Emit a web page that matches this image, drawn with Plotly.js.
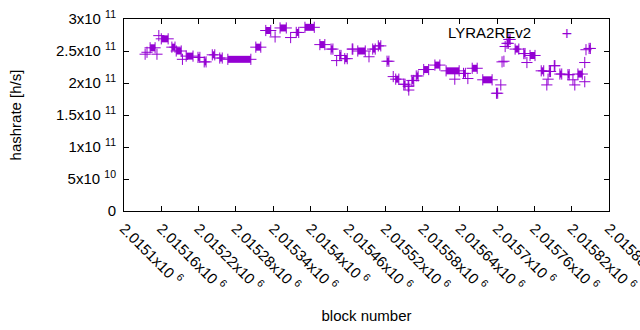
<!DOCTYPE html>
<html>
<head>
<meta charset="utf-8">
<script src="https://cdn.plot.ly/plotly-3.0.1.min.js"></script>
<style>html,body{margin:0;padding:0;background:#fff;}#chart{width:640px;height:330px;}</style>
</head>
<body>
<div id="chart"></div>
<script>
// Runs of consecutive blocks sharing the same hashrate
const runStart = [2015142,2015160,2015177,2015184,2015200,2015219,2015229,2015242,2015254,2015267,
  2015312,2015328,2015351,2015377,2015391,2015415,2015433,2015447,2015455,2015467,
  2015476,2015500,2015509,2015523,2015537,2015550,2015557,2015563,2015570,2015582,
  2015600,2015618,2015646,2015660,2015677,2015699,2015716,2015719,2015729,2015743,
  2015753,2015771,2015784,2015792,2015801,2015814,2015830,2015848];
const runEnd = [2015150,2015171,2015182,2015192,2015211,2015222,2015232,2015246,2015258,2015304,
  2015320,2015336,2015361,2015381,2015406,2015423,2015436,2015449,2015459,2015468,
  2015488,2015504,2015513,2015526,2015542,2015552,2015558,2015566,2015573,2015590,
  2015608,2015639,2015649,2015668,2015692,2015701,2015718,2015721,2015735,2015745,
  2015761,2015775,2015786,2015793,2015804,2015816,2015837,2015850];
const runValue = [2.55e11,2.69e11,2.56e11,2.50e11,2.42e11,2.40e11,2.33e11,2.44e11,2.39e11,2.37e11,
  2.56e11,2.82e11,2.86e11,2.79e11,2.87e11,2.60e11,2.53e11,2.43e11,2.38e11,2.53e11,
  2.50e11,2.53e11,2.58e11,2.34e11,2.06e11,1.98e11,1.95e11,2.04e11,2.11e11,2.21e11,
  2.28e11,2.19e11,2.15e11,2.23e11,2.05e11,1.84e11,2.62e11,2.68e11,2.53e11,2.46e11,
  2.43e11,2.19e11,2.18e11,2.27e11,2.14e11,2.13e11,2.14e11,2.54e11];
// Isolated blocks
const singleBlock = [2015134,2015137,2015153,2015156,2015194,2015343,2015368,2015442,2015494,2015533,
  2015558,2015632,2015653,2015706,2015708,2015711,2015713,2015748,2015780,2015782,
  2015822,2015825,2015841,2015841,2015843];
const singleValue = [2.45e11,2.48e11,2.45e11,2.74e11,2.37e11,2.72e11,2.71e11,2.35e11,2.41e11,2.10e11,
  1.89e11,2.06e11,2.07e11,1.97e11,2.33e11,2.34e11,2.57e11,2.32e11,1.97e11,2.06e11,
  2.05e11,1.97e11,2.02e11,2.32e11,2.52e11];

const xTickVals = [2015100,2015160,2015220,2015280,2015340,2015400,2015460,2015520,2015580,2015640,2015700,2015760,2015820,2015880];
const xTickMant = ['2.0151','2.01516','2.01522','2.01528','2.01534','2.0154','2.01546','2.01552','2.01558','2.01564','2.0157','2.01576','2.01582','2.01588'];
const yTickVals = [0,5e10,1e11,1.5e11,2e11,2.5e11,3e11];
const yTickMant = ['0','5','1','1.5','2','2.5','3'];
const yTickExp = ['','10','11','11','11','11','11'];
const seriesName = 'LYRA2REv2';

const COLOR = '#9400d3';
const sup = e => ' <sup>' + e + '</sup>';

const segX = [], segY = [], endX = [], endY = [];
runStart.forEach((s, i) => {
  segX.push(s, runEnd[i], null);
  segY.push(runValue[i], runValue[i], null);
  endX.push(s, runEnd[i]);
  endY.push(runValue[i], runValue[i]);
});

const traces = [
  {x: segX, y: segY, type: 'scatter', mode: 'lines', connectgaps: false,
   line: {color: COLOR, width: 7}, showlegend: false, hoverinfo: 'skip'},
  {x: endX.concat(singleBlock), y: endY.concat(singleValue), type: 'scatter', mode: 'markers',
   name: seriesName, showlegend: false,
   marker: {symbol: 'cross-thin-open', size: 8, color: COLOR, line: {color: COLOR, width: 1}}}
];

const font = {family: 'Liberation Sans, Arial, sans-serif', size: 15, color: '#000'};
const layout = {
  width: 640, height: 330,
  margin: {l: 124, r: 31, t: 19, b: 119},
  paper_bgcolor: '#fff', plot_bgcolor: '#fff',
  font: font,
  showlegend: false,
  xaxis: {
    range: [2015100, 2015880], tickmode: 'array', tickvals: xTickVals,
    ticktext: xTickMant.map(m => m + 'x10' + sup('6')),
    tickangle: 45, ticks: 'inside', ticklen: 5, tickcolor: '#000',
    showline: true, linecolor: '#000', linewidth: 1, mirror: 'ticks',
    showgrid: false, zeroline: false, automargin: false,
    ticklabeloverflow: 'allow', ticklabelstandoff: 2,
    tickfont: font,
    title: {text: 'block number', font: font, standoff: 16}
  },
  yaxis: {
    range: [0, 3e11], tickmode: 'array', tickvals: yTickVals,
    ticktext: yTickMant.map((m, i) => yTickExp[i] ? m + 'x10' + sup(yTickExp[i]) : m),
    ticks: 'inside', ticklen: 5, tickcolor: '#000',
    showline: true, linecolor: '#000', linewidth: 1, mirror: 'ticks',
    showgrid: false, zeroline: false, automargin: false,
    ticklabelstandoff: 4,
    tickfont: font,
    title: {text: 'hashrate [h/s]', font: font, standoff: 30}
  },
  annotations: [
    {xref: 'paper', yref: 'paper', x: (533 - 124) / 485, y: (211 - 32) / 192,
     xanchor: 'right', yanchor: 'middle', text: seriesName, showarrow: false, font: font},
    {xref: 'paper', yref: 'paper', x: (567 - 124) / 485, y: (211 - 33) / 192,
     xanchor: 'center', yanchor: 'middle', text: '+', showarrow: false,
     font: {family: 'DejaVu Sans', size: 14, color: COLOR}}
  ]
};

Plotly.newPlot('chart', traces, layout, {displayModeBar: false, staticPlot: true});
</script>
</body>
</html>
